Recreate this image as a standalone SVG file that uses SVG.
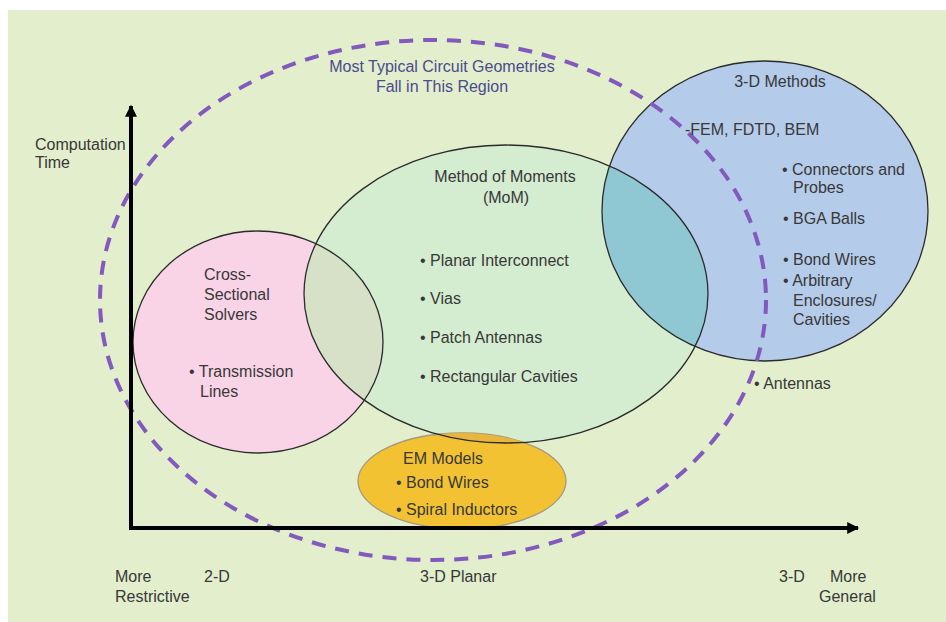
<svg xmlns="http://www.w3.org/2000/svg" width="946" height="622" viewBox="0 0 946 622">
<style>
text{font-family:"Liberation Sans",Arial,sans-serif;font-size:16px;fill:#383838}
.title{fill:#4b4b8f}
.mid{text-anchor:middle}
.outline{fill:none;stroke:#2b2b2b;stroke-width:1.3}
.axis{stroke:#000;stroke-width:4;fill:none}
</style>
<defs>
<ellipse id="e-cs" cx="258" cy="342" rx="125" ry="111"/>
<ellipse id="e-mom" cx="506" cy="294" rx="202" ry="149"/>
<ellipse id="e-3d" cx="765" cy="211" rx="163" ry="150"/>
<ellipse id="e-em" cx="462" cy="481" rx="104" ry="48"/>
<clipPath id="clip-cs"><use href="#e-cs"/></clipPath>
<clipPath id="clip-3d"><use href="#e-3d"/></clipPath>
<clipPath id="clip-em"><use href="#e-em"/></clipPath>
<marker id="arrow" viewBox="0 0 10 10" refX="9" refY="5" markerWidth="3.4" markerHeight="3" orient="auto" markerUnits="strokeWidth">
<path d="M0,0L10,5L0,10z" fill="#000"/>
</marker>
</defs>
<rect x="8" y="10" width="938" height="612" fill="#e2eecc"/>

<g id="cross-sectional">
<use href="#e-cs" fill="#f8d4e6"/>
<text x="204" y="280">Cross-</text>
<text x="204" y="300">Sectional</text>
<text x="204" y="320">Solvers</text>
<text x="189" y="377">• Transmission</text>
<text x="200" y="397">Lines</text>
</g>

<g id="methods-3d">
<use href="#e-3d" fill="#b5cbea"/>
</g>

<g id="mom">
<use href="#e-mom" fill="#d4ecd0"/>
<text class="mid" x="505" y="182">Method of Moments</text>
<text class="mid" x="506" y="203">(MoM)</text>
<text x="420" y="266">• Planar Interconnect</text>
<text x="420" y="304">• Vias</text>
<text x="420" y="343">• Patch Antennas</text>
<text x="420" y="382">• Rectangular Cavities</text>
</g>

<g id="overlaps">
<use href="#e-mom" fill="#d6e1c8" clip-path="url(#clip-cs)"/>
<use href="#e-mom" fill="#8fc8d2" clip-path="url(#clip-3d)"/>
</g>

<g id="em-models">
<use href="#e-em" fill="#f3c232" stroke="#a59a80" stroke-width="1.3"/>
<use href="#e-mom" fill="#e7b63a" clip-path="url(#clip-em)"/>
<text x="403" y="464">EM Models</text>
<text x="396" y="488">• Bond Wires</text>
<text x="396" y="515">• Spiral Inductors</text>
</g>

<g id="outlines">
<use href="#e-cs" class="outline"/>
<use href="#e-mom" class="outline"/>
<use href="#e-3d" class="outline"/>
</g>

<g id="typical-region">
<ellipse cx="433" cy="300" rx="333" ry="260" fill="none" stroke="#8259bd" stroke-width="4" stroke-dasharray="14 10"/>
<text class="title mid" x="442" y="72">Most Typical Circuit Geometries</text>
<text class="title mid" x="442" y="92">Fall in This Region</text>
</g>

<g id="methods-3d-labels">
<text class="mid" x="780" y="87">3-D Methods</text>
<text x="685" y="135">-FEM, FDTD, BEM</text>
<text x="782" y="175">• Connectors and</text>
<text x="793" y="193">Probes</text>
<text x="783" y="224">• BGA Balls</text>
<text x="783" y="265">• Bond Wires</text>
<text x="783" y="286">• Arbitrary</text>
<text x="793" y="306">Enclosures/</text>
<text x="793" y="325">Cavities</text>
<text x="754" y="389">• Antennas</text>
</g>

<g id="connectors">
<path class="axis" d="M131,530 L131,106" marker-end="url(#arrow)"/>
<path class="axis" d="M129,528 L858,528" marker-end="url(#arrow)"/>
</g>

<g id="axis-labels">
<text x="35" y="150">Computation</text>
<text x="35" y="168">Time</text>
<text x="115" y="582">More</text>
<text x="115" y="602">Restrictive</text>
<text x="204" y="582">2-D</text>
<text x="420" y="582">3-D Planar</text>
<text x="779" y="582">3-D</text>
<text x="830" y="582">More</text>
<text x="819" y="602">General</text>
</g>
</svg>
